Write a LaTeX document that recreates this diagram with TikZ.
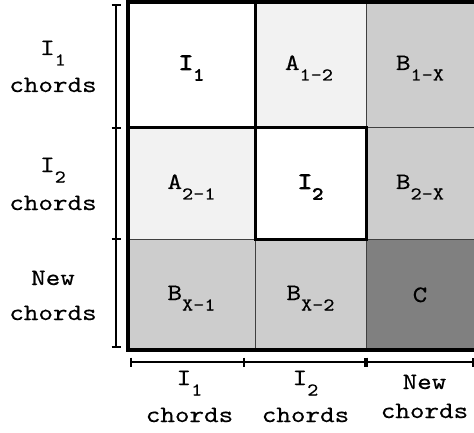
\documentclass[tikz,border=0pt]{standalone}
\usepackage{fontspec}
\newfontfamily\cmono{lmmono10-regular.otf}[FakeStretch=1.18, FakeBold=0.4]
\newfontfamily\cmonobold{lmmono10-regular.otf}[FakeStretch=1.18, FakeBold=3.5]
\newcommand\mainsz{\fontsize{23.5}{28}\selectfont}
\newcommand\subsc[1]{\raisebox{-10.5pt}{\fontsize{18}{20}\selectfont #1}}
\definecolor{Alight}{HTML}{F2F2F2}
\definecolor{Bgray}{HTML}{CDCDCD}
\definecolor{Cdark}{HTML}{808080}
\definecolor{gridline}{HTML}{404040}
\begin{document}
\begin{tikzpicture}[x=1pt,y=-1pt,
  lbl/.style={font=\cmono\mainsz, inner sep=0pt, anchor=base},
  blbl/.style={font=\cmonobold\mainsz, inner sep=0pt, anchor=base},
  thin grid/.style={draw=gridline, line width=1pt},
  ibox/.style={draw=black, line width=3pt},
  outer/.style={draw=black, line width=4pt},
  brk/.style={draw=black, line width=1.6pt}]
\useasboundingbox (0,0) rectangle (474,433);
% cell fills
\fill[white]  (128,2)   rectangle (255,128);
\fill[Alight] (255,2)   rectangle (366,128);
\fill[Bgray]  (366,2)   rectangle (480,128);
\fill[Alight] (128,128) rectangle (255,239);
\fill[white]  (255,128) rectangle (366,239);
\fill[Bgray]  (366,128) rectangle (480,239);
\fill[Bgray]  (128,239) rectangle (255,350);
\fill[Bgray]  (255,239) rectangle (366,350);
\fill[Cdark]  (366,239) rectangle (480,350);
% inner grid lines
\draw[thin grid] (255,2) -- (255,350);
\draw[thin grid] (366,2) -- (366,350);
\draw[thin grid] (128,128) -- (480,128);
\draw[thin grid] (128,239) -- (480,239);
% highlighted blocks
\draw[ibox] (128,2) rectangle (255,128);
\draw[ibox] (255,128) rectangle (366,239);
% outer border
\draw[outer] (127.5,2) rectangle (479,350);
% cell labels
\node[blbl] (c11) at (191.5,70) {I\subsc{1}};
\node[lbl] (c12) at (309,70) {A\subsc{1-2}};
\node[lbl] (c13) at (420,70) {B\subsc{1-X}};
\node[lbl] (c21) at (191.5,189) {A\subsc{2-1}};
\node[blbl] (c22) at (310.5,189) {I\subsc{2}};
\node[lbl] (c23) at (420,189) {B\subsc{2-X}};
\node[lbl] (c31) at (191.5,300) {B\subsc{X-1}};
\node[lbl] (c32) at (310.5,300) {B\subsc{X-2}};
\node[lbl] (c33) at (420,302) {C};
% left bracket
\coordinate (lt) at (116,5);
\coordinate (lb) at (116,347);
\draw[brk] (lt) -- (lb);
\draw[brk] (111.5,5) -- (121,5);
\draw[brk] (111.5,128) -- (121,128);
\draw[brk] (111.5,239) -- (121,239);
\draw[brk] (111.5,347) -- (121,347);
% bottom bracket
\coordinate (bl) at (131,362);
\coordinate (br) at (473,362);
\draw[brk] (bl) -- (br);
\draw[brk] (131,357.5) -- (131,366.5);
\draw[brk] (244,357.5) -- (244,366.5);
\draw[draw=black, line width=3.5pt] (366,357.5) -- (366,366.5);
\draw[draw=black, line width=3pt] (473,357.5) -- (473,366.5);
% left labels
\node[lbl] (l1a) at (53,55) {I\subsc{1}};
\node[lbl] (l1b) at (53,92) {chords};
\node[lbl] (l2a) at (53,172) {I\subsc{2}};
\node[lbl] (l2b) at (53,210) {chords};
\node[lbl] (l3a) at (53,285) {New};
\node[lbl] (l3b) at (53,320) {chords};
% bottom labels
\node[lbl] (b1a) at (189.5,385) {I\subsc{1}};
\node[lbl] (b1b) at (189.5,422) {chords};
\node[lbl] (b2a) at (305.5,385) {I\subsc{2}};
\node[lbl] (b2b) at (305.5,422) {chords};
\node[lbl] (b3a) at (424.5,389) {New};
\node[lbl] (b3b) at (424.5,418) {chords};
\end{tikzpicture}
\end{document}
